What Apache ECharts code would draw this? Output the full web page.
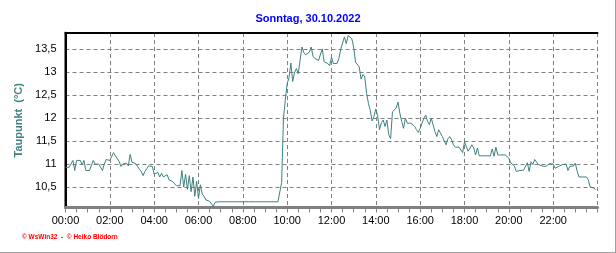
<!DOCTYPE html>
<html>
<head>
<meta charset="utf-8">
<script src="https://cdn.jsdelivr.net/npm/echarts@6/dist/echarts.min.js"></script>
<style>
html,body{margin:0;padding:0;background:#fff;}
#chart{width:616px;height:253px;}
</style>
</head>
<body>
<div id="chart"></div>
<script>
// ---- Data (Taupunkt, 5-minute samples starting 00:00) ----
const titleText = 'Sonntag, 30.10.2022';
const yAxisName = 'Taupunkt  (°C)';
const footerText = '© WsWin32  -  © Heiko Blödorn';
const sampleMinutes = 5;
const xTickHours = [0, 2, 4, 6, 8, 10, 12, 14, 16, 18, 20, 22];
const yTickValues = [10.5, 11, 11.5, 12, 12.5, 13, 13.5];
const dewpoint = [
  // 00:00 - 01:55
  10.93, 10.93, 10.93, 10.93, 11.08, 10.86, 11.08, 11.08, 11.08, 10.98, 11.08, 10.86,
  10.86, 10.86, 10.86, 11.08, 11.0, 11.0, 11.0, 11.0, 10.86, 11.0, 11.1, 11.08,
  // 02:00 - 03:55
  11.08, 11.12, 11.25, 11.18, 11.2, 11.06, 10.95, 11.0, 11.02, 11.02, 10.96, 11.21,
  11.04, 11.01, 11.01, 10.95, 10.89, 10.84, 10.75, 10.84, 10.9, 10.96, 11.0, 10.95,
  // 04:00 - 05:55
  10.78, 10.8, 10.82, 10.72, 10.8, 10.72, 10.7, 10.77, 10.66, 10.62, 10.62, 10.58,
  10.53, 10.53, 10.53, 10.86, 10.5, 10.78, 10.45, 10.75, 10.4, 10.72, 10.3, 10.62,
  // 06:00 - 07:55
  10.25, 10.55, 10.35, 10.3, 10.22, 10.19, 10.19, 10.17, 10.08, 10.17, 10.18, 10.18,
  10.18, 10.18, 10.18, 10.18, 10.18, 10.18, 10.18, 10.18, 10.18, 10.18, 10.18, 10.18,
  // 08:00 - 09:55
  10.18, 10.18, 10.18, 10.18, 10.18, 10.18, 10.18, 10.18, 10.18, 10.18, 10.18, 10.18,
  10.18, 10.18, 10.18, 10.18, 10.18, 10.18, 10.18, 10.18, 10.18, 10.6, 12.0, 12.4,
  // 10:00 - 11:55
  12.75, 12.88, 13.2, 12.8, 13.0, 13.08, 12.97, 13.0, 13.55, 13.43, 13.38, 13.41,
  13.44, 13.55, 13.35, 13.3, 13.33, 13.26, 13.25, 13.51, 13.23, 13.22, 13.19, 13.14,
  // 12:00 - 13:55
  13.33, 13.19, 13.19, 13.19, 13.3, 13.5, 13.5, 13.77, 13.62, 13.8, 13.82, 13.73,
  13.55, 13.22, 13.2, 13.12, 12.85, 12.95, 12.9, 12.54, 12.32, 12.17, 11.94, 12.04,
  // 14:00 - 15:55
  12.2, 12.05, 11.75, 11.9, 11.96, 11.82, 11.96, 11.64, 11.55, 12.14, 12.11, 12.22,
  12.35, 12.11, 11.93, 11.78, 12.0, 11.89, 11.89, 11.89, 11.89, 11.82, 11.75, 11.69,
  // 16:00 - 17:55
  11.78, 11.89, 12.0, 12.07, 11.93, 11.86, 12.0, 11.96, 11.71, 11.6, 11.75, 11.75,
  11.6, 11.57, 11.42, 11.55, 11.6, 11.53, 11.42, 11.37, 11.37, 11.37, 11.35, 11.25,
  // 18:00 - 19:55
  11.49, 11.38, 11.28, 11.29, 11.42, 11.35, 11.2, 11.35, 11.18, 11.18, 11.18, 11.18,
  11.18, 11.18, 11.18, 11.33, 11.17, 11.37, 11.2, 11.17, 11.2, 11.22, 11.2, 11.17,
  // 20:00 - 21:55
  11.13, 11.03, 11.01, 10.96, 10.84, 10.86, 10.86, 10.86, 10.87, 10.88, 11.03, 10.84,
  11.05, 10.99, 11.1, 11.12, 10.99, 10.95, 10.96, 10.92, 10.95, 10.96, 11.01, 11.01,
  // 22:00 - 23:55
  11.0, 10.91, 10.91, 10.95, 10.98, 10.99, 10.96, 11.0, 10.86, 10.95, 10.96, 10.96,
  11.02, 10.84, 10.72, 10.72, 10.72, 10.72, 10.72, 10.66, 10.5, 10.5, 10.48, 10.44
];
const yMin = 10.055;
const yMax = 13.855;

const seriesData = dewpoint.map((v, i) => [i * sampleMinutes / 60, v]);
const pad = n => (n < 10 ? '0' : '') + n;
const FONT = "'Liberation Sans', Arial, sans-serif";
const GRAY = '#808080';
const TEAL = '#408080';

const chart = echarts.init(document.getElementById('chart'), null, {renderer: 'canvas'});
chart.setOption({
  animation: false,
  backgroundColor: '#ffffff',
  title: {
    text: titleText,
    left: 'center',
    top: 13,
    padding: 0,
    textStyle: {color: '#0000ff', fontSize: 11, fontWeight: 'bold', fontFamily: FONT}
  },
  grid: {left: 65.5, right: 18.5, top: 33, bottom: 45.5, containLabel: false},
  xAxis: [{
    type: 'value',
    min: 0, max: 24, interval: 2,
    position: 'bottom',
    axisLine: {show: true, lineStyle: {color: GRAY, width: 3}},
    axisTick: {show: true, length: 5, lineStyle: {color: GRAY, width: 1}},
    minorTick: {show: true, splitNumber: 4, length: 5, lineStyle: {color: GRAY, width: 1}},
    splitLine: {show: true, lineStyle: {color: GRAY, width: 1, type: [4, 3]}},
    axisLabel: {
      show: true, margin: 8, fontSize: 11, color: '#000', fontFamily: FONT,
      showMaxLabel: false,
      formatter: v => (xTickHours.indexOf(v) >= 0 ? pad(v) + ':00' : '')
    }
  }, {
    type: 'value', min: 0, max: 24, position: 'top',
    axisLine: {show: true, lineStyle: {color: '#000', width: 2}},
    axisTick: {show: false}, axisLabel: {show: false}, splitLine: {show: false}
  }],
  yAxis: [{
    type: 'value',
    min: yMin, max: yMax,
    splitNumber: 8, minInterval: 0.5, maxInterval: 0.5,
    position: 'left',
    offset: 1.5,
    name: yAxisName,
    nameLocation: 'middle',
    nameGap: 33,
    nameRotate: 90,
    nameTextStyle: {color: TEAL, fontSize: 11, fontWeight: 'bold', fontFamily: FONT},
    axisLine: {show: true, lineStyle: {color: GRAY, width: 3}},
    axisTick: {show: false},
    splitLine: {show: true, lineStyle: {color: GRAY, width: 1, type: [4, 3]}},
    axisLabel: {
      show: true, margin: 7.5, fontSize: 11, color: '#000', fontFamily: FONT,
      showMinLabel: false, showMaxLabel: false,
      formatter: v => {
        const r = Math.round(v * 10) / 10;
        return yTickValues.indexOf(r) >= 0 ? String(r).replace('.', ',') : '';
      }
    }
  }, {
    type: 'value', min: yMin, max: yMax, position: 'right',
    axisLine: {show: true, lineStyle: {color: '#000', width: 2}},
    axisTick: {show: false}, axisLabel: {show: false}, splitLine: {show: false}
  }],
  series: [{
    type: 'line',
    xAxisIndex: 0, yAxisIndex: 0,
    data: seriesData,
    showSymbol: false,
    symbol: 'none',
    lineStyle: {color: TEAL, width: 1},
    itemStyle: {color: TEAL},
    z: 3
  }],
  graphic: [
    {type: 'text', left: 22, top: 234,
     style: {text: footerText, fill: '#ff0000', fontSize: 6.5, fontWeight: 'bold', fontFamily: FONT}},
    {type: 'line', shape: {x1: 615.5, y1: 0, x2: 615.5, y2: 253}, style: {stroke: '#a0a0a0', lineWidth: 1}},
    {type: 'line', shape: {x1: 0, y1: 252.5, x2: 616, y2: 252.5}, style: {stroke: '#a0a0a0', lineWidth: 1}}
  ]
});
</script>
</body>
</html>
